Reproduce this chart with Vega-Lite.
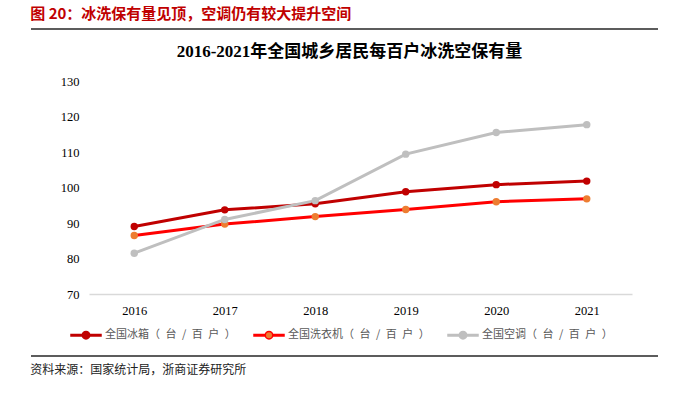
{
  "$schema": "https://vega.github.io/schema/vega-lite/v6.json",
  "padding": {"left": 30, "top": 7, "right": 0, "bottom": 0},
  "background": "white",
  "config": {"view": {"stroke": null}, "concat": {"spacing": 13}},
  "resolve": {"legend": {"fill": "independent", "stroke": "independent"}},
  "datasets": {
    "main": [
      {"year": "2016", "series": "全国冰箱（台/百户）", "value": 89.0},
      {"year": "2017", "series": "全国冰箱（台/百户）", "value": 93.7},
      {"year": "2018", "series": "全国冰箱（台/百户）", "value": 95.4},
      {"year": "2019", "series": "全国冰箱（台/百户）", "value": 98.8},
      {"year": "2020", "series": "全国冰箱（台/百户）", "value": 100.8},
      {"year": "2021", "series": "全国冰箱（台/百户）", "value": 101.8},
      {"year": "2016", "series": "全国洗衣机（台/百户）", "value": 86.5},
      {"year": "2017", "series": "全国洗衣机（台/百户）", "value": 89.7},
      {"year": "2018", "series": "全国洗衣机（台/百户）", "value": 91.8},
      {"year": "2019", "series": "全国洗衣机（台/百户）", "value": 93.8},
      {"year": "2020", "series": "全国洗衣机（台/百户）", "value": 96.0},
      {"year": "2021", "series": "全国洗衣机（台/百户）", "value": 96.8},
      {"year": "2016", "series": "全国空调（台/百户）", "value": 81.5},
      {"year": "2017", "series": "全国空调（台/百户）", "value": 91.0},
      {"year": "2018", "series": "全国空调（台/百户）", "value": 96.3},
      {"year": "2019", "series": "全国空调（台/百户）", "value": 109.4},
      {"year": "2020", "series": "全国空调（台/百户）", "value": 115.5},
      {"year": "2021", "series": "全国空调（台/百户）", "value": 117.7}
    ],
    "rule": [{"start": 0, "end": 1, "level": 0.5}]
  },
  "vconcat": [
    {
      "width": 543,
      "height": 2,
      "title": {
        "text": "图 20：冰洗保有量见顶，空调仍有较大提升空间",
        "anchor": "start",
        "frame": "bounds",
        "font": "Noto Sans CJK SC",
        "fontSize": 15,
        "fontWeight": "bold",
        "color": "#C00000",
        "offset": 6
      },
      "data": {"name": "rule"},
      "mark": {"type": "rule", "color": "#262626", "strokeWidth": 1.5},
      "encoding": {
        "x": {"field": "start", "type": "quantitative", "scale": {"domain": [0, 1], "range": [-58, 569], "nice": false, "zero": false}, "axis": null},
        "x2": {"field": "end"},
        "y": {"field": "level", "type": "quantitative", "scale": {"domain": [0, 1], "nice": false, "zero": false}, "axis": null}
      }
    },
    {
      "width": 543,
      "height": 213,
      "title": {
        "text": "2016-2021年全国城乡居民每百户冰洗空保有量",
        "anchor": "middle",
        "font": "Liberation Serif, Noto Sans CJK SC",
        "fontSize": 17,
        "fontWeight": "bold",
        "color": "#000000",
        "offset": 14,
        "dx": -11
      },
      "data": {"name": "main"},
      "encoding": {
        "x": {
          "field": "year",
          "type": "ordinal",
          "scale": {"type": "point", "padding": 0.5},
          "axis": {
            "title": null,
            "labelAngle": 0,
            "labelFont": "Liberation Serif",
            "labelFontSize": 12.5,
            "labelColor": "#000000",
            "labelPadding": 10,
            "ticks": false,
            "domainColor": "#D9D9D9",
            "domainWidth": 1.5,
            "grid": false
          }
        },
        "y": {
          "field": "value",
          "type": "quantitative",
          "scale": {"domain": [70, 130], "nice": false, "zero": false},
          "axis": {
            "title": null,
            "values": [70, 80, 90, 100, 110, 120, 130],
            "labelFont": "Liberation Serif",
            "labelFontSize": 12.5,
            "labelColor": "#000000",
            "labelPadding": 10,
            "ticks": false,
            "domain": false,
            "grid": false
          }
        }
      },
      "layer": [
        {
          "mark": {"type": "line", "strokeWidth": 3},
          "encoding": {
            "stroke": {
              "field": "series",
              "type": "nominal",
              "scale": {
                "domain": ["全国冰箱（台/百户）", "全国洗衣机（台/百户）", "全国空调（台/百户）"],
                "range": ["#C00000", "#FF0000", "#BFBFBF"]
              },
              "legend": {
                "title": null,
                "orient": "none",
                "legendX": -19,
                "legendY": 238,
                "direction": "horizontal",
                "padding": 0,
                "symbolType": "M-1,-0.05H-0.25V0.05H-1Z M0.25,-0.05H1V0.05H0.25Z M0.25,0A0.25,0.25,0,1,1,-0.25,0A0.25,0.25,0,1,1,0.25,0Z",
                "symbolSize": 900,
                "symbolStrokeWidth": 1.5,
                "symbolOpacity": 1,
                "labelFont": "Noto Sans CJK SC",
                "labelFontSize": 11,
                "labelColor": "#595959",
                "labelOffset": 3,
                "labelLimit": 300,
                "columnPadding": 15,
                "labelExpr": "replace(replace(replace(replace(replace(datum.label, '（', '（\u2002'), '台', '台\u2002'), '/', '/\u2002'), '百', '百\u2002'), '户', '户\u2002')"
              }
            }
          }
        },
        {
          "mark": {"type": "point", "filled": true, "size": 55, "opacity": 1, "shape": "circle"},
          "encoding": {
            "fill": {
              "field": "series",
              "type": "nominal",
              "scale": {
                "domain": ["全国冰箱（台/百户）", "全国洗衣机（台/百户）", "全国空调（台/百户）"],
                "range": ["#C00000", "#ED7D31", "#BFBFBF"]
              },
              "legend": {
                "title": null,
                "orient": "none",
                "legendX": -19,
                "legendY": 238,
                "direction": "horizontal",
                "padding": 0,
                "symbolType": "M-1,-0.05H-0.25V0.05H-1Z M0.25,-0.05H1V0.05H0.25Z M0.25,0A0.25,0.25,0,1,1,-0.25,0A0.25,0.25,0,1,1,0.25,0Z",
                "symbolSize": 900,
                "symbolStrokeWidth": 1.5,
                "symbolOpacity": 1,
                "labelFont": "Noto Sans CJK SC",
                "labelFontSize": 11,
                "labelColor": "#595959",
                "labelOffset": 3,
                "labelLimit": 300,
                "columnPadding": 15,
                "labelExpr": "replace(replace(replace(replace(replace(datum.label, '（', '（\u2002'), '台', '台\u2002'), '/', '/\u2002'), '百', '百\u2002'), '户', '户\u2002')"
              }
            }
          }
        }
      ]
    },
    {
      "width": 543,
      "height": 2,
      "title": {
        "text": "资料来源：国家统计局，浙商证券研究所",
        "orient": "bottom",
        "anchor": "start",
        "frame": "bounds",
        "font": "Noto Sans CJK SC",
        "fontSize": 12,
        "fontWeight": "normal",
        "color": "#222222",
        "offset": 8
      },
      "data": {"name": "rule"},
      "mark": {"type": "rule", "color": "#262626", "strokeWidth": 1.5},
      "encoding": {
        "x": {"field": "start", "type": "quantitative", "scale": {"domain": [0, 1], "range": [-58, 569], "nice": false, "zero": false}, "axis": null},
        "x2": {"field": "end"},
        "y": {"field": "level", "type": "quantitative", "scale": {"domain": [0, 1], "nice": false, "zero": false}, "axis": null}
      }
    }
  ]
}
